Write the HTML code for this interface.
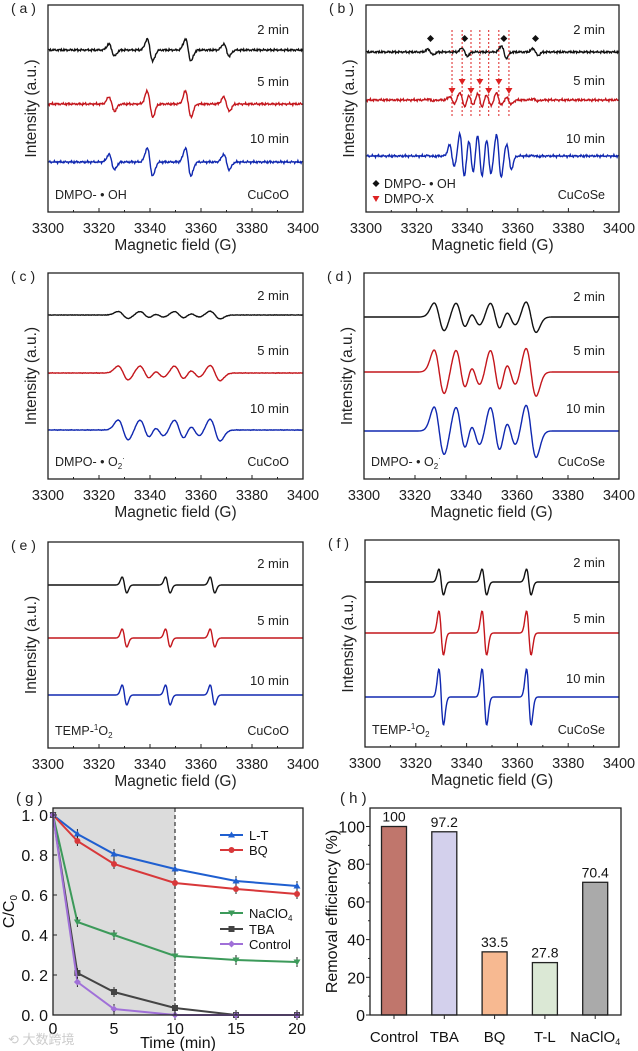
<!DOCTYPE html>
<html><head><meta charset="utf-8"><style>
body{margin:0;background:#fff}
svg{display:block;font-family:"Liberation Sans","Noto Sans CJK SC",sans-serif}
</style></head><body>
<svg id="fig" width="638" height="1051" viewBox="0 0 638 1051" xmlns="http://www.w3.org/2000/svg"></svg>
<script>
// ---- EPR data: line centers (G) and relative amplitudes per panel; series scale per time (2,5,10 min)
const timesLabels = ["2 min","5 min","10 min"];
const aCenters = [3325,3340,3355,3370];
const aAmps = [0.55,1,1,0.55];
const aScale = [11,13,14];
const bOHCenters = [3325.5,3339,3354.5,3367];
const bOHAmps = [0.4,0.6,0.9,0.5];
const bXCenters = [3334,3338,3341.5,3345,3348.5,3352.5,3356.5];
const bXAmps = [0.5,1,0.8,1,0.8,1,0.6];
const bOHScale = [7,2,1];
const bXScale = [0,7,22];
const o2Centers = [3329.5,3338,3343.5,3351.5,3357.5,3365.5];
const o2Amps = [1,1,0.6,1,0.6,1.1];
const cScale = [3.5,7,10];
const dScale = [14,22,24];
const tCenters = [3330,3347,3364.5];
const tAmps = [1,1,1];
const eScale = [8,9,10];
const fScale = [13,22,28];
// ---- kinetics (g)
const gTimes = [0,2,5,10,15,20];
const gLT = [1,0.905,0.805,0.73,0.67,0.645];
const gBQ = [1,0.87,0.755,0.66,0.63,0.605];
const gNa = [1,0.465,0.4,0.295,0.275,0.265];
const gTBA = [1,0.21,0.115,0.035,0,0];
const gCtrl = [1,0.165,0.03,0,0,0];
const gYTicks = ["0. 0","0. 2","0. 4","0. 6","0. 8","1. 0"];
const gXTicks = [0,5,10,15,20];
// ---- removal (h)
const hCats = ["Control","TBA","BQ","T-L","NaClO4"];
const hVals = [100,97.2,33.5,27.8,70.4];
const hLabels = ["100","97.2","33.5","27.8","70.4"];
const hYTicks = [0,20,40,60,80,100];

const NS="http://www.w3.org/2000/svg";
const svg=document.getElementById('fig');
function el(tag,attrs,parent,txt){const e=document.createElementNS(NS,tag);for(const k in attrs)e.setAttribute(k,attrs[k]);if(txt!==undefined)e.textContent=txt;(parent||svg).appendChild(e);return e;}
const COLS=["#111","#c4161c","#1028b0"];

function dg(x,c,w){const t=(x-c)/w;return -t*Math.exp(-t*t/2)/0.6065;}
function texture(x,k){return Math.sin(x*7.3+k)*0.6+Math.sin(x*13.1+2*k)*0.5+Math.sin(x*2.9+k*3)*0.5;}

function eprPanel(id,L,R,T,B,baselines,labelYs,centerSets,tex,letter,leftText,rightText,extra){
  const g=el('g',{},svg);
  
  
  const xs=v=>L+(v-3300)/100*(R-L);
  for(let s=0;s<3;s++){
    let d="";
    for(let x=3300;x<=3400;x+=0.25){
      let y=tex?texture(x,s)*tex:0;
      centerSets.forEach(cs=>{cs.c.forEach((c,i)=>{y+=cs.s[s]*cs.a[i]*dg(x,c,cs.w);});});
      d+=(x===3300?"M":"L")+xs(x).toFixed(1)+","+(baselines[s]-y).toFixed(1);
    }
    const p=el('path',{d:d,fill:"none",stroke:COLS[s],"stroke-width":1.4},g);
    
    
    const t=el('text',{x:R-14,y:labelYs[s]+5,"text-anchor":"end","font-size":13,fill:"#222"},g,timesLabels[s]);
    
    
  }
  const fr=el('rect',{x:L,y:T,width:R-L,height:B-T,fill:"none",stroke:"#222","stroke-width":1.3},g);
  
  
  for(let v=3300;v<=3400;v+=10){
    const major=(v%20===0);
    el('line',{x1:xs(v),x2:xs(v),y1:B,y2:B-(major?4:2),stroke:"#222","stroke-width":1},g);
    if(major){const t=el('text',{x:xs(v),y:B+21,"text-anchor":"middle","font-size":14.5,fill:"#222"},g,String(v));
      }
  }
  const xt=el('text',{x:(L+R)/2,y:B+38,"text-anchor":"middle","font-size":15.5,fill:"#222"},g,"Magnetic field (G)");
  
  const yt=el('text',{x:0,y:0,"text-anchor":"middle","font-size":15.5,fill:"#222",transform:`translate(${L-12},${(T+B)/2}) rotate(-90)`},g,"Intensity (a.u.)");
  
  const pl=el('text',{x:L-37,y:T+8,"font-size":14,fill:"#222"},g,"( "+letter+" )");
  
  if(leftText){const lt=el('text',{x:L+7,y:B-13,"font-size":12.5,fill:"#222"},g);lt.innerHTML=leftText;
    }
  const rt=el('text',{x:R-14,y:B-13,"text-anchor":"end","font-size":12.5,fill:"#222"},g,rightText);
  
  if(extra)extra(g,xs);
}

eprPanel('a',48,303,5,212,[50,104,162],[29,81,138],[{c:aCenters,a:aAmps,s:aScale,w:1.1}],0.9,'a','DMPO- • OH','CuCoO');
eprPanel('b',366,619,5,212,[52,100,156],[29,80,138],[{c:bOHCenters,a:bOHAmps,s:bOHScale,w:1.0},{c:bXCenters,a:bXAmps,s:bXScale,w:0.95}],0.9,'b','','CuCoSe',(g,xs)=>{
  bOHCenters.forEach(c=>{const m=el('path',{d:`M${xs(c)},${35} l3.5,3.5 l-3.5,3.5 l-3.5,-3.5z`,fill:"#111"},g);
    });
  bXCenters.forEach((c,i)=>{
    const ln=el('line',{x1:xs(c),x2:xs(c),y1:30,y2:117,stroke:"#d22","stroke-width":1,"stroke-dasharray":"2,2"},g);
    
    const ty=i%2?82:91;
    const m=el('path',{d:`M${xs(c)-3.5},${ty-3} l7,0 l-3.5,6z`,fill:"#d22"},g);
    
  });
  el('path',{d:`M376,180 l3.5,3.5 l-3.5,3.5 l-3.5,-3.5z`,fill:"#111"},g);
  const l1=el('text',{x:384,y:188,"font-size":12.5,fill:"#222"},g,"DMPO- • OH");
  
  el('path',{d:`M372.5,196 l7,0 l-3.5,6z`,fill:"#d22"},g);
  const l2=el('text',{x:384,y:203,"font-size":12.5,fill:"#222"},g,"DMPO-X");
  
});
eprPanel('c',48,303,273,479,[315,373,430],[295,350,408],[{c:o2Centers,a:o2Amps,s:cScale,w:2.0}],0.2,'c','DMPO- • O<tspan font-size="8" dy="3">2</tspan><tspan font-size="8" dy="-8">·</tspan>','CuCoO');
eprPanel('d',364,619,273,479,[317,372,431],[296,350,408],[{c:o2Centers,a:o2Amps,s:dScale,w:2.0}],0,'d','DMPO- • O<tspan font-size="8" dy="3">2</tspan><tspan font-size="8" dy="-8">·</tspan>','CuCoSe');
eprPanel('e',48,303,542,748,[585,638,695],[563,620,680],[{c:tCenters,a:tAmps,s:eScale,w:0.9}],0,'e','TEMP-<tspan font-size="8" dy="-5">1</tspan><tspan dy="5">O</tspan><tspan font-size="8" dy="3">2</tspan>','CuCoO');
eprPanel('f',365,619,540,747,[582,633,697],[562,618,678],[{c:tCenters,a:tAmps,s:fScale,w:0.9}],0,'f','TEMP-<tspan font-size="8" dy="-5">1</tspan><tspan dy="5">O</tspan><tspan font-size="8" dy="3">2</tspan>','CuCoSe');

// ---- panel g
(function(){
  const L=53,R=303,T=808,B=1015;
  const g=el('g',{},svg);
  
  
  const xs=t=>L+t*12.2, ys=v=>B-v*200;
  const sh=el('rect',{x:L,y:T,width:xs(10)-L,height:B-T,fill:"#dcdcdc"},g);
  
  el('line',{x1:xs(10),x2:xs(10),y1:T,y2:B,stroke:"#333","stroke-width":1.2,"stroke-dasharray":"4,3"},g);
  const series=[[gLT,"#1f5fd0","tri","L-T"],[gBQ,"#d8383a","circ","BQ"],[gNa,"#3c9a5a","dtri","NaClO4"],[gTBA,"#444","sq","TBA"],[gCtrl,"#a070d8","dia","Control"]];
  function marker(shape,x,y,c,parent){
    if(shape==="circ")return el('circle',{cx:x,cy:y,r:3,fill:c},parent);
    if(shape==="tri")return el('path',{d:`M${x},${y-3.5} l3.5,6 l-7,0z`,fill:c},parent);
    if(shape==="dtri")return el('path',{d:`M${x},${y+3.5} l3.5,-6 l-7,0z`,fill:c},parent);
    if(shape==="sq")return el('rect',{x:x-3,y:y-3,width:6,height:6,fill:c},parent);
    return el('path',{d:`M${x},${y-3.5} l3.5,3.5 l-3.5,3.5 l-3.5,-3.5z`,fill:c},parent);
  }
  series.forEach(([vals,c,sh2,name])=>{
    let d="";vals.forEach((v,i)=>{d+=(i?"L":"M")+xs(gTimes[i])+","+ys(v);});
    const p=el('path',{d:d,fill:"none",stroke:c,"stroke-width":2},g);
    
    vals.forEach((v,i)=>{
      el('line',{x1:xs(gTimes[i]),x2:xs(gTimes[i]),y1:ys(v)-5,y2:ys(v)+5,stroke:"#222","stroke-width":1},g);
      const m=marker(sh2,xs(gTimes[i]),ys(v),c,g);
      
    });
  });
  const fr=el('rect',{x:L,y:T,width:R-L,height:B-T,fill:"none",stroke:"#222","stroke-width":1.3},g);
  
  gYTicks.forEach((lab,i)=>{const y=ys(i*0.2);
    el('line',{x1:L,x2:L+4,y1:y,y2:y,stroke:"#222"},g);
    const t=el('text',{x:L-5,y:y+6,"text-anchor":"end","font-size":16,fill:"#111"},g,lab);
    });
  gXTicks.forEach(v=>{el('line',{x1:xs(v),x2:xs(v),y1:B,y2:B-4,stroke:"#222"},g);
    const t=el('text',{x:xs(v),y:B+19,"text-anchor":"middle","font-size":16,fill:"#111"},g,String(v));
    });
  const xt=el('text',{x:178,y:1048,"text-anchor":"middle","font-size":16,fill:"#111"},g,"Time  (min)");
  
  const yt=el('text',{x:0,y:0,"text-anchor":"middle","font-size":16,fill:"#111",transform:`translate(14,${(T+B)/2}) rotate(-90)`},g);
  yt.innerHTML='C/C<tspan font-size="10" dy="3">0</tspan>';
  
  const pl=el('text',{x:16,y:803,"font-size":15,fill:"#222"},g,"( g )");
  
  const legY=[835,850,913,929,944];
  series.forEach(([vals,c,sh2,name],i)=>{
    const lg=el('g',{},g);
    
    el('line',{x1:220,x2:243,y1:legY[i],y2:legY[i],stroke:c,"stroke-width":2},lg);
    marker(sh2,231.5,legY[i],c,lg);
    const t=el('text',{x:249,y:legY[i]+5,"font-size":13,fill:"#111"},lg);
    if(name==="NaClO4")t.innerHTML='NaClO<tspan font-size="8" dy="3">4</tspan>';else t.textContent=name;
  });
  const wm=el('text',{x:8,y:1044,"font-size":13,fill:"#ccc"},svg,"⟲ 大数跨境");
  
})();

// ---- panel h
(function(){
  const L=370,R=621,T=808,B=1015;
  const g=el('g',{},svg);
  
  
  const ys=v=>B-v*1.885;
  const xs=i=>394+i*50.3;
  const colors=["#c0766c","#d3d0ec","#f7b991","#dbe8d5","#aaaaaa"];
  hCats.forEach((c,i)=>{
    const r=el('rect',{x:xs(i)-12.5,y:ys(hVals[i]),width:25,height:B-ys(hVals[i]),fill:colors[i],stroke:"#222","stroke-width":1.3},g);
    
    const v=el('text',{x:xs(i),y:ys(hVals[i])-5,"text-anchor":"middle","font-size":14,fill:"#111"},g,hLabels[i]);
    
    el('line',{x1:xs(i),x2:xs(i),y1:B,y2:B+4,stroke:"#222"},g);
    const t=el('text',{x:xs(i),y:B+27,"text-anchor":"middle","font-size":15,fill:"#111"},g);
    if(c==="NaClO4")t.innerHTML='NaClO<tspan font-size="9" dy="3">4</tspan>';else t.textContent=c;
    
  });
  const fr=el('rect',{x:L,y:T,width:R-L,height:B-T,fill:"none",stroke:"#222","stroke-width":1.3},g);
  
  hYTicks.forEach(v=>{const y=ys(v);
    el('line',{x1:L-4,x2:L,y1:y,y2:y,stroke:"#222"},g);
    if(v<100)el('line',{x1:L-2,x2:L,y1:ys(v+10),y2:ys(v+10),stroke:"#222"},g);
    const t=el('text',{x:L-5,y:y+6,"text-anchor":"end","font-size":16,fill:"#111"},g,String(v));
    });
  const yt=el('text',{x:0,y:0,"text-anchor":"middle","font-size":16,fill:"#111",transform:`translate(337,${(T+B)/2}) rotate(-90)`},g,"Removal efficiency (%)");
  
  const pl=el('text',{x:340,y:803,"font-size":15,fill:"#222"},g,"( h )");
  
})();
</script>
</body></html>
